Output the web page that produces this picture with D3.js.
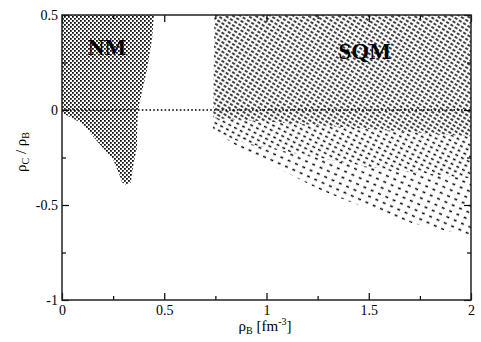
<!DOCTYPE html>
<html>
<head>
<meta charset="utf-8">
<script src="https://cdn.jsdelivr.net/npm/d3@7"></script>
<style>
  body { margin: 0; background: #fff; }
  svg text { font-family: "Liberation Serif", "Times New Roman", serif; fill: #000; }
</style>
</head>
<body>
<svg id="chart" width="481" height="342"></svg>
<script>
// boundaries of the regions, [rhoB, rhoC/rhoB]
const nmBoundary = [[0, 0.5], [0.45, 0.5], [0.44, 0.37], [0.415, 0.21], [0.39, 0.09], [0.372, 0],
  [0.367, -0.12], [0.367, -0.195], [0.347, -0.3], [0.337, -0.38], [0.315, -0.395], [0.293, -0.38],
  [0.284, -0.35], [0.25, -0.26], [0.176, -0.17], [0.098, -0.07], [0, -0.016]];
const sqmBoundary = [[0.745, 0.5], [2, 0.5], [2, -0.658], [1.85, -0.63], [1.69, -0.59], [1.52, -0.526],
  [1.41, -0.484], [1.26, -0.42], [1.1, -0.33], [0.934, -0.247], [0.773, -0.13], [0.738, -0.105], [0.74, 0]];
// density bands inside the SQM region (dense at top, sparse near the lower edge)
const sqmDense = [[0.7, 0.5], [2, 0.5], [2, -0.14], [1.5, -0.1], [1.0, -0.06], [0.7, -0.04]];
const sqmMid = [[0.7, -0.04], [1.0, -0.06], [1.5, -0.1], [2, -0.14], [2, -0.36], [1.5, -0.3], [1.0, -0.2], [0.7, -0.12]];
const sqmSparse = [[0.7, -0.12], [1.0, -0.2], [1.5, -0.3], [2, -0.36], [2, -0.7], [0.7, -0.7]];
const zeroLine = [[0, 0], [2, 0]];

const xMajor = [0, 0.5, 1, 1.5, 2];
const xMinor = [0.25, 0.75, 1.25, 1.75];
const yMajor = [-1, -0.5, 0, 0.5];
const yMinor = [-0.75, -0.25, 0.25];

const svg = d3.select("#chart");
const mLeft = 62, mRight = 471, mTop = 15, mBottom = 300;
const serif = "Liberation Serif, Times New Roman, serif";

const x = d3.scaleLinear().domain([0, 2]).range([mLeft, mRight]);
const y = d3.scaleLinear().domain([-1, 0.5]).range([mBottom, mTop]);

// fill patterns
const defs = svg.append("defs");
const nm = defs.append("pattern").attr("id", "nm")
  .attr("patternUnits", "userSpaceOnUse").attr("width", 4).attr("height", 4);
nm.append("rect").attr("x", 0).attr("y", 0).attr("width", 1.8).attr("height", 1.8).attr("fill", "#111");
nm.append("rect").attr("x", 2).attr("y", 2).attr("width", 1.8).attr("height", 1.8).attr("fill", "#111");

function dashPattern(id, w, h, len, angle) {
  const p = defs.append("pattern").attr("id", id)
    .attr("patternUnits", "userSpaceOnUse").attr("width", w).attr("height", h)
    .attr("patternTransform", `rotate(${angle})`);
  p.append("line").attr("x1", 0).attr("y1", h / 2).attr("x2", len).attr("y2", h / 2)
    .attr("stroke", "#000").attr("stroke-width", 1.5);
}
dashPattern("dense", 5, 4, 3.2, 32);
dashPattern("mid", 6.5, 5, 3, 28);
dashPattern("sparse", 8, 6.5, 3, 24);

defs.append("clipPath").attr("id", "sqmClip")
  .append("path").attr("d", d3.line().x(d => x(d[0])).y(d => y(d[1]))(sqmBoundary) + "Z");

const area = d3.line().x(d => x(d[0])).y(d => y(d[1]));

svg.append("path").attr("d", area(nmBoundary) + "Z").attr("fill", "url(#nm)");
const sqm = svg.append("g").attr("clip-path", "url(#sqmClip)");
sqm.append("path").attr("d", area(sqmSparse) + "Z").attr("fill", "url(#sparse)");
sqm.append("path").attr("d", area(sqmMid) + "Z").attr("fill", "url(#mid)");
sqm.append("path").attr("d", area(sqmDense) + "Z").attr("fill", "url(#dense)");

// dotted zero line
svg.append("path").attr("d", area(zeroLine))
  .attr("fill", "none").attr("stroke", "#000").attr("stroke-width", 1.6)
  .attr("stroke-dasharray", "1.6,2.2");

// axes, ticks pointing inward on all four sides
const fmt = d => String(d);
function styleAxis(g) {
  g.attr("font-family", serif);
  g.select(".domain").remove();
  g.selectAll("line").attr("stroke", "#000").attr("stroke-width", 1.2);
  g.selectAll("text").attr("font-size", 14).attr("font-family", serif);
}
svg.append("g").attr("transform", `translate(0,${mBottom})`)
  .call(d3.axisBottom(x).tickValues(xMajor).tickFormat(fmt).tickSize(-7).tickPadding(5)).call(styleAxis);
svg.append("g").attr("transform", `translate(0,${mBottom})`)
  .call(d3.axisBottom(x).tickValues(xMinor).tickFormat("").tickSize(-4)).call(styleAxis);
svg.append("g").attr("transform", `translate(0,${mTop})`)
  .call(d3.axisTop(x).tickValues(xMajor).tickFormat("").tickSize(-7)).call(styleAxis);
svg.append("g").attr("transform", `translate(0,${mTop})`)
  .call(d3.axisTop(x).tickValues(xMinor).tickFormat("").tickSize(-4)).call(styleAxis);
svg.append("g").attr("transform", `translate(${mLeft},0)`)
  .call(d3.axisLeft(y).tickValues(yMajor).tickFormat(fmt).tickSize(-7).tickPadding(4)).call(styleAxis);
svg.append("g").attr("transform", `translate(${mLeft},0)`)
  .call(d3.axisLeft(y).tickValues(yMinor).tickFormat("").tickSize(-4)).call(styleAxis);
svg.append("g").attr("transform", `translate(${mRight},0)`)
  .call(d3.axisRight(y).tickValues(yMajor).tickFormat("").tickSize(-7)).call(styleAxis);
svg.append("g").attr("transform", `translate(${mRight},0)`)
  .call(d3.axisRight(y).tickValues(yMinor).tickFormat("").tickSize(-4)).call(styleAxis);

svg.append("rect").attr("x", mLeft).attr("y", mTop)
  .attr("width", mRight - mLeft).attr("height", mBottom - mTop)
  .attr("fill", "none").attr("stroke", "#222").attr("stroke-width", 1.5);

// region labels
svg.append("text").attr("x", x(0.22)).attr("y", y(0.29)).attr("text-anchor", "middle")
  .attr("font-size", 23).attr("font-weight", "bold").text("NM");
svg.append("text").attr("x", x(1.48)).attr("y", y(0.27)).attr("text-anchor", "middle")
  .attr("font-size", 23).attr("font-weight", "bold").text("SQM");

// axis titles
const xt = svg.append("text").attr("x", 265).attr("y", 331).attr("text-anchor", "middle").attr("font-size", 15);
xt.append("tspan").text("ρ");
xt.append("tspan").attr("font-size", 10).attr("dy", 3).text("B");
xt.append("tspan").attr("dy", -3).text(" [fm");
xt.append("tspan").attr("font-size", 10).attr("dy", -6).text("-3");
xt.append("tspan").attr("dy", 6).text("]");

const yt = svg.append("text").attr("transform", "translate(26,152) rotate(-90)")
  .attr("text-anchor", "middle").attr("font-size", 15);
yt.append("tspan").text("ρ");
yt.append("tspan").attr("font-size", 10).attr("dy", 3).text("C");
yt.append("tspan").attr("dy", -3).text(" / ρ");
yt.append("tspan").attr("font-size", 10).attr("dy", 3).text("B");
</script>
</body>
</html>
